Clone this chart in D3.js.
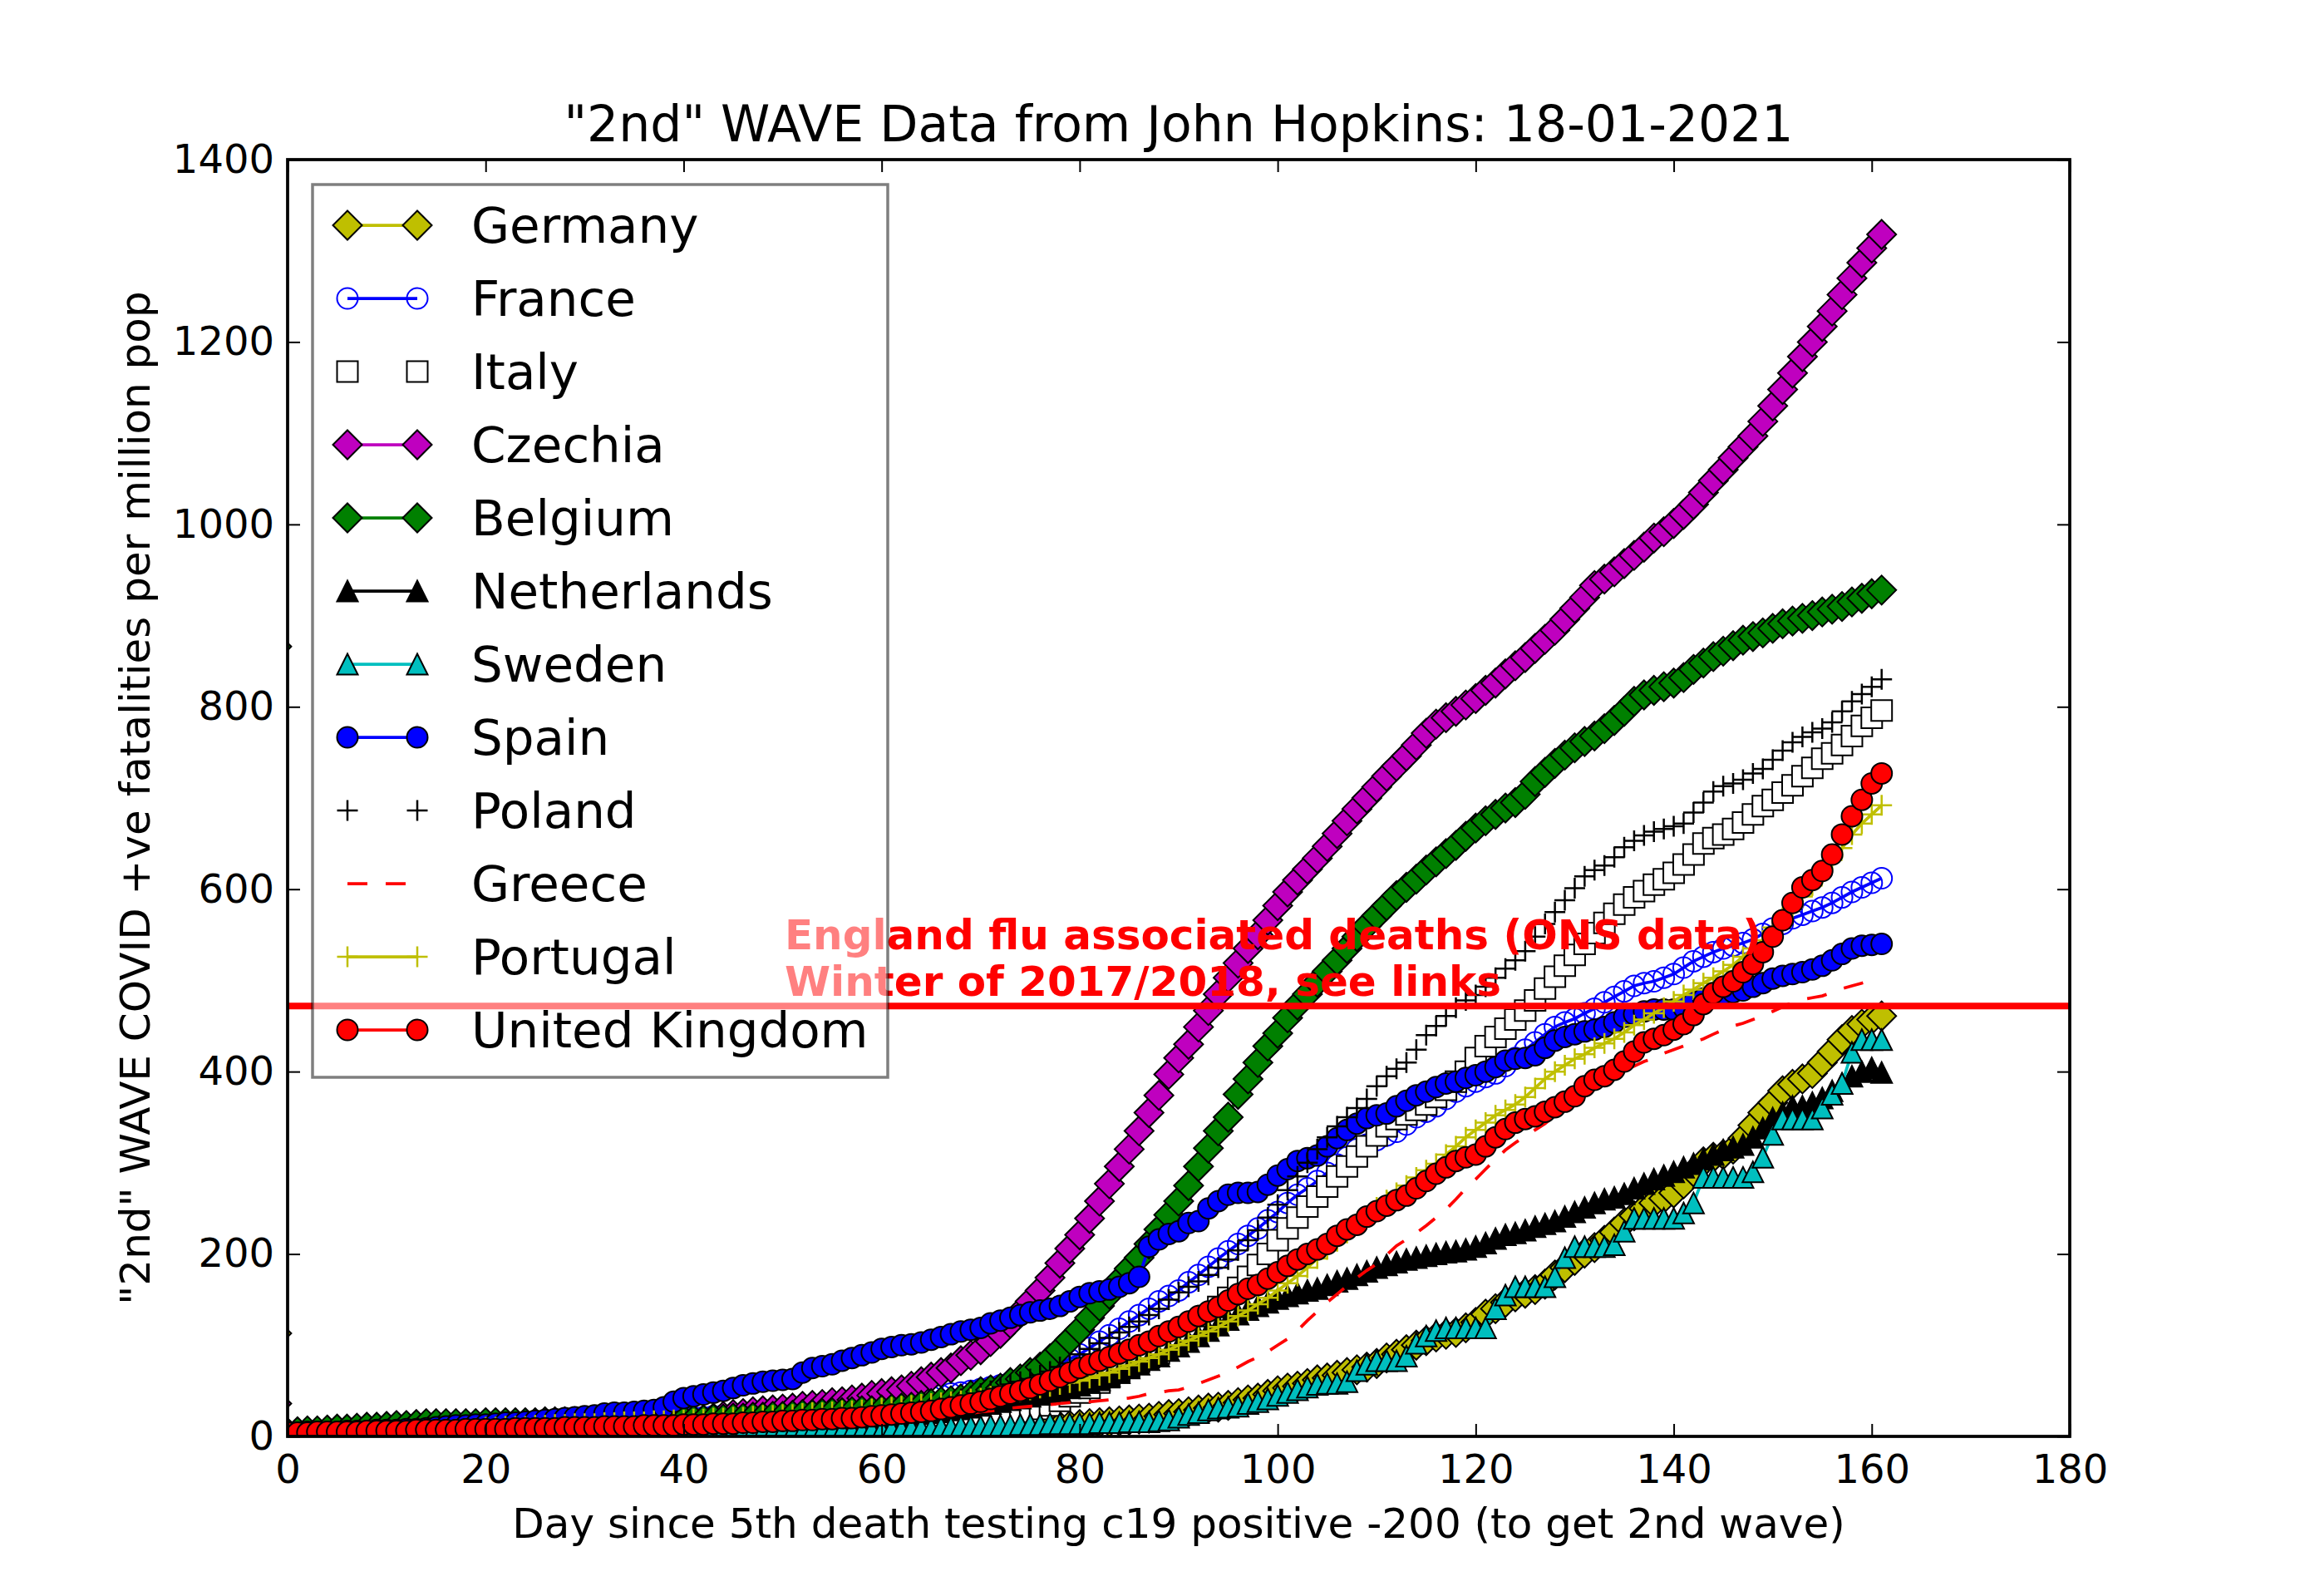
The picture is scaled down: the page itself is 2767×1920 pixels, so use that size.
<!DOCTYPE html>
<html>
<head>
<meta charset="utf-8">
<script src="https://cdn.jsdelivr.net/npm/d3@7"></script>
<style>
  body { margin: 0; background: #fff; }
  svg { display: block; }
  text { font-family: "DejaVu Sans", sans-serif; }
</style>
</head>
<body>
<div id="chart"></div>
<script>
// values, one per day (day 0 .. 161)
const germany = [
  1,1,1,1,1,1,1,2,2,2, 2,2,2,2,2,2,2,2,2,2, 2,2,2,2,2,2,3,3,3,3, 3,3,3,3,3,3,3,3,3,3,
  3,3,3,3,3,4,4,4,4,4, 4,4,4,4,4,4,5,5,5,5, 5,5,5,5,6,6,6,6,7,7, 7,8,8,9,9,10,10,11,11,12,
  13,14,15,16,17,18,19,20,22,24, 25,27,29,31,32,34,37,40,42,46, 50,53,55,58,62,64,67,70,73,76,
  80,86,90,95,100,105,109,112,114,119, 125,134,140,147,153,157,161,167,177,185,
  193,201,207,215,224,234,242,250,256,261, 267,277,290,301,306,309,315,327,341,355,
  366,379,386,392,398,410,422,435,445,452, 457,461]
const france = [
  3,3,3,3,4,4,4,4,5,5, 5,5,6,6,6,7,7,7,8,8, 9,9,10,10,11,11,12,12,13,13, 14,14,15,15,16,16,17,17,18,19,
  20,21,21,22,23,23,24,25,26,27, 28,29,30,31,32,33,34,35,36,37, 38,39,40,41,42,44,45,47,48,50,
  52,54,56,59,62,66,70,75,80,85, 90,97,104,111,118,126,133,140,148,154, 160,169,177,186,195,203,211,220,228,237,
  246,256,265,272,280,289,298,306,315,320, 325,330,334,342,350,356,362,370,378,384,
  389,394,398,406,415,424,432,441,449,454, 458,464,469,476,482,488,494,497,499,503,
  507,514,521,526,531,535,538,541,545,551, 557,562,568,572,576,580,585,591,597,602, 607,612]
const italy = [
  2,2,2,2,2,3,3,3,3,3, 3,3,4,4,4,4,4,5,5,5, 5,5,5,6,6,6,6,6,7,7, 7,7,7,8,8,8,8,8,9,9,
  9,9,10,10,10,10,11,11,11,12, 12,12,13,13,13,14,14,14,15,15, 15,16,16,17,17,18,18,19,19,20,
  20,21,22,23,25,27,30,34,39,44, 48,53,59,65,70,76,82,87,91,99, 107,114,122,132,142,152,163,175,188,200,
  215,228,240,252,263,274,285,296,307,318, 330,340,348,353,358,364,372,380,389,400,
  415,428,438,447,457,467,478,491,504,516, 528,540,552,563,573,583,591,598,605,611,
  618,627,638,650,656,660,666,673,682,691, 698,706,714,724,733,743,749,758,768,779, 788,796]
const czechia = [
  3,3,3,4,4,4,4,5,5,5, 5,5,6,6,6,6,7,7,7,8, 8,8,8,9,9,9,10,10,10,11, 11,11,12,12,12,13,13,13,14,14,
  15,17,18,20,22,24,25,27,28,29, 30,31,33,34,35,37,38,40,42,45, 47,49,51,55,60,65,70,75,83,89,
  95,104,113,124,136,148,160,174,190,206, 221,239,258,277,296,315,335,355,374,397,
  415,430,449,467,485,503,519,535,550,566, 582,597,610,622,634,647,661,675,688,700,
  712,724,735,746,758,771,781,788,795,802, 809,818,826,836,845,854,864,874,884,896,
  908,920,933,940,948,957,966,975,985,992, 1001,1011,1022,1035,1048,1060,1073,1085,1097,1113,
  1130,1148,1166,1184,1200,1217,1234,1252,1270,1287, 1303,1318]
const belgium = [
  4,5,6,6,7,8,8,9,10,10, 11,12,12,13,14,14,14,14,14,14, 15,15,15,15,15,15,16,16,16,16, 16,16,16,17,17,17,17,17,17,17,
  18,18,18,19,19,20,20,21,21,22, 22,23,24,24,25,26,26,27,28,28, 29,30,31,32,34,36,38,39,41,45,
  49,51,53,59,63,70,76,85,95,106, 117,130,143,156,171,184,196,211,227,243, 258,275,296,316,335,350,375,392,410,428,
  442,459,473,485,498,510,522,535,548,560, 571,582,593,602,611,621,630,639,648,658,
  667,675,682,689,695,704,718,728,738,747, 755,762,768,776,785,795,806,813,818,822,
  826,832,841,848,855,861,867,873,877,881, 886,891,894,897,900,904,907,910,915,919, 924,928]
const netherlands = [
  3,3,3,3,3,4,4,4,4,4, 4,5,5,5,5,5,5,6,6,6, 6,6,6,7,7,7,7,7,8,8, 8,8,8,9,9,9,9,10,10,10,
  10,11,11,11,12,12,12,13,13,14, 14,15,15,16,16,17,18,18,19,20, 21,22,23,24,25,26,27,29,30,32,
  34,36,38,40,42,44,46,48,50,53, 56,59,62,66,70,75,79,84,88,94, 99,104,110,116,122,128,134,139,143,147,
  151,154,157,160,162,166,170,173,177,181, 185,188,191,194,196,198,200,202,203,205,
  208,212,217,221,223,226,230,233,236,241, 246,251,256,260,262,266,272,277,282,286,
  290,295,299,304,309,314,317,320,328,338, 349,355,362,362,366,371,379,387,395,400, 404,399]
const sweden = [
  2,2,2,2,2,2,2,2,2,2, 3,3,3,3,3,3,3,3,3,3, 3,3,3,3,3,3,4,4,4,4, 4,4,4,4,4,4,4,4,4,5,
  5,5,5,5,5,5,5,5,5,5, 5,5,5,6,6,6,6,6,6,7, 7,8,8,9,9,9,10,10,11,11, 11,12,12,12,13,13,13,14,14,14,
  14,14,15,15,15,16,16,16,17,18, 21,24,26,29,31,32,33,36,38,41, 45,48,51,54,57,58,58,60,72,79,
  83,83,83,88,102,110,116,119,119,119, 119,119,140,155,164,164,164,164,175,196,
  208,208,208,208,210,225,239,239,239,239, 239,245,256,284,284,284,284,284,290,306,
  331,348,348,348,348,360,375,387,421,435, 435,435]
const spain = [
  4,4,5,5,5,5,6,6,6,7, 7,7,8,8,9,10,11,12,12,13, 13,14,15,15,16,17,18,19,20,21, 22,23,25,26,26,27,28,29,32,38,
  42,44,46,48,50,53,56,58,60,61, 62,63,70,75,77,79,83,86,89,92, 96,98,100,101,103,106,109,112,115,117,
  119,124,127,130,133,136,138,140,143,148, 153,157,159,161,164,168,175,208,216,222, 225,234,236,250,258,265,267,267,268,276,
  286,293,302,305,308,318,327,336,343,349, 352,354,362,368,374,378,383,387,389,393,
  396,400,405,412,414,415,418,426,434,438, 441,444,446,449,454,460,463,466,468,468,
  468,470,476,480,483,485,487,489,493,497, 502,505,507,509,512,516,522,529,535,538, 539,540]
const poland = [
  1,1,1,2,2,2,2,2,2,2, 3,3,3,3,3,3,4,4,4,4, 4,5,5,5,5,6,6,6,6,7, 7,7,8,8,8,9,9,9,10,10,
  11,11,12,12,13,13,14,14,15,16, 16,17,18,19,20,21,22,23,24,25, 26,27,28,30,31,32,35,38,41,44,
  47,50,54,57,60,63,67,71,76,80, 90,96,102,108,114,120,126,133,140,150, 158,164,170,177,185,194,204,215,226,240,
  254,270,285,300,315,328,340,350,360,370, 384,395,403,410,424,440,450,461,470,478,
  484,493,503,513,522,532,548,562,575,588, 601,614,621,626,635,646,653,659,663,666,
  669,672,684,695,707,713,716,720,727,732, 742,752,761,767,772,776,783,795,806,814, 822,830]
const greece = [
  1,1,1,1,1,1,1,1,1,1, 1,1,1,1,1,2,2,2,2,2, 2,2,2,2,2,2,2,3,3,3, 3,3,3,3,3,4,4,4,4,4,
  5,5,5,5,6,6,6,7,7,7, 8,8,9,9,10,10,11,11,12,13, 14,15,16,17,18,19,21,22,24,25,
  27,28,29,31,32,33,34,35,36,37, 38,38,39,40,41,42,44,47,48,50, 51,54,58,62,66,70,76,82,87,93,
  100,107,116,127,137,147,156,165,174,182, 189,199,209,216,223,231,240,249,260,272,
  282,293,304,314,322,329,336,343,352,361, 370,378,384,390,396,401,406,411,415,420,
  424,428,432,436,441,446,450,453,457,461, 466,471,476,479,481,483,487,491,494,497, 500]
const portugal = [
  2,2,3,3,3,4,4,4,5,5, 5,6,6,6,7,7,8,8,9,9, 10,10,11,11,11,12,12,13,13,14, 14,14,15,15,16,16,16,17,17,18,
  18,19,19,20,20,21,21,22,23,23, 24,24,25,26,26,27,28,28,29,30, 31,32,33,34,35,36,37,38,39,41,
  42,44,45,47,49,51,53,55,57,59, 61,64,67,70,74,78,82,86,90,95, 100,105,110,115,120,126,132,138,145,152,
  160,168,176,185,195,205,214,223,233,242, 251,259,267,275,284,292,299,309,318,328,
  336,344,352,358,364,372,382,392,400,407, 414,419,426,431,436,443,451,457,464,470,
  477,484,490,497,503,510,517,526,535,544, 558,569,580,592,604,617,632,645,660,672, 682,692]
const unitedKingdom = [
  4,4,4,5,5,5,5,5,6,6, 6,6,6,7,7,7,7,7,8,8, 8,8,8,9,9,9,9,9,10,10, 10,10,11,11,11,11,12,12,12,12,
  13,13,13,14,14,14,15,15,16,16, 17,17,18,18,19,19,20,20,21,22, 23,24,25,26,27,28,30,32,34,36,
  38,41,44,47,50,53,57,61,65,70, 75,79,83,87,91,95,100,104,110,115, 120,126,132,137,142,149,156,162,166,173,
  180,187,194,200,205,211,220,227,232,241, 247,253,259,264,272,280,288,295,302,306,
  309,318,328,337,344,348,351,356,361,367, 373,384,391,395,402,411,422,432,436,440,
  446,452,462,474,486,493,499,509,518,531, 548,566,585,602,610,620,638,660,680,698, 716,727]

// stray first points drawn at the left edge
const strayNames = ["Belgium", "Germany", "Czechia"]
const strayValues = [866, 113, 36]
const strayDay = -1.1

const fluLevel = 472
const fluText = ["England flu associated deaths (ONS data)", "Winter of 2017/2018, see links"]
const xTicks = [0, 20, 40, 60, 80, 100, 120, 140, 160, 180]
const yTicks = [0, 200, 400, 600, 800, 1000, 1200, 1400]

const names = ["Germany", "France", "Italy", "Czechia", "Belgium", "Netherlands",
  "Sweden", "Spain", "Poland", "Greece", "Portugal", "United Kingdom"]
const valuesByName = {
  "Germany": germany, "France": france, "Italy": italy, "Czechia": czechia,
  "Belgium": belgium, "Netherlands": netherlands, "Sweden": sweden, "Spain": spain,
  "Poland": poland, "Greece": greece, "Portugal": portugal, "United Kingdom": unitedKingdom
}

// styles, matplotlib classic colours
const styles = {
  "Germany":        {line: "#bfbf00", marker: "diamond", fill: "#bfbf00", edge: "#000"},
  "France":         {line: "#0000ff", marker: "circle", fill: "none", edge: "#0000ff"},
  "Italy":          {line: null, marker: "square", fill: "#fff", edge: "#000"},
  "Czechia":        {line: "#bf00bf", marker: "diamond", fill: "#bf00bf", edge: "#000"},
  "Belgium":        {line: "#008000", marker: "diamond", fill: "#008000", edge: "#000"},
  "Netherlands":    {line: "#000", marker: "triangle", fill: "#000", edge: "#000"},
  "Sweden":         {line: "#00bfbf", marker: "triangle", fill: "#00bfbf", edge: "#000"},
  "Spain":          {line: "#0000ff", marker: "circle", fill: "#0000ff", edge: "#000"},
  "Poland":         {line: null, marker: "plus", fill: "none", edge: "#000"},
  "Greece":         {line: "#ff0000", dash: "24,22", marker: null},
  "Portugal":       {line: "#bfbf00", marker: "plus", fill: "none", edge: "#bfbf00"},
  "United Kingdom": {line: "#ff0000", marker: "circle", fill: "#ff0000", edge: "#000"}
}

const markerPath = {
  circle: "M12.5,0A12.5,12.5 0 1,1 -12.5,0A12.5,12.5 0 1,1 12.5,0Z",
  diamond: "M0,-17.5L17.5,0L0,17.5L-17.5,0Z",
  triangle: "M0,-12.5L12.5,12.5L-12.5,12.5Z",
  square: "M-12.5,-12.5h25v25h-25Z",
  plus: "M-12.5,0h25M0,-12.5v25"
}

const width = 2767
const height = 1920
const plotLeft = 346, plotRight = 2490, plotTop = 192, plotBottom = 1728

const x = d3.scaleLinear().domain([0, 180]).range([plotLeft, plotRight])
const y = d3.scaleLinear().domain([0, 1400]).range([plotBottom, plotTop])

const svg = d3.select("#chart").append("svg")
  .attr("width", width)
  .attr("height", height)

svg.append("rect").attr("width", width).attr("height", height).attr("fill", "#fff")

svg.append("clipPath").attr("id", "plotclip")
  .append("rect")
  .attr("x", plotLeft).attr("y", plotTop)
  .attr("width", plotRight - plotLeft).attr("height", plotBottom - plotTop)

const plot = svg.append("g").attr("clip-path", "url(#plotclip)")

function drawMarkers(g, pts, st) {
  g.selectAll(null).data(pts).enter().append("path")
    .attr("d", markerPath[st.marker])
    .attr("transform", d => `translate(${d[0]},${d[1]})`)
    .attr("fill", st.fill)
    .attr("stroke", st.edge)
    .attr("stroke-width", st.marker === "plus" ? 2.5 : 2)
}

names.forEach(name => {
  const st = styles[name]
  const vals = valuesByName[name]
  const pts = vals.map((v, i) => [x(i), y(v)])
  const g = plot.append("g")
  if (st.line) {
    g.append("path")
      .attr("d", d3.line()(pts))
      .attr("fill", "none")
      .attr("stroke", st.line)
      .attr("stroke-width", 3.75)
      .attr("stroke-dasharray", st.dash || null)
  }
  if (st.marker) drawMarkers(g, pts, st)
})

strayNames.forEach((name, i) => {
  drawMarkers(plot.append("g"), [[x(strayDay), y(strayValues[i])]], styles[name])
})

// flu reference line and its label
plot.append("line")
  .attr("x1", plotLeft).attr("x2", plotRight)
  .attr("y1", y(fluLevel)).attr("y2", y(fluLevel))
  .attr("stroke", "#ff0000")
  .attr("stroke-width", 8)

svg.append("g").selectAll("text").data(fluText).enter().append("text")
  .attr("x", x(50.2))
  .attr("y", (d, i) => y(fluLevel) - 68 + i * 56)
  .attr("fill", "#ff0000")
  .attr("font-weight", "bold")
  .attr("font-size", 50)
  .text(d => d)

// axes: ticks inside on all four sides
const tickLen = 15
function styleAxis(g) {
  g.select(".domain").remove()
  g.selectAll(".tick line").attr("stroke", "#000").attr("stroke-width", 2)
  g.selectAll(".tick text").attr("font-size", 48).attr("fill", "#000")
    .attr("font-family", "DejaVu Sans")
}

svg.append("g")
  .attr("transform", `translate(0,${plotBottom})`)
  .call(d3.axisBottom(x).tickValues(xTicks).tickSizeInner(-tickLen).tickSizeOuter(0)
    .tickPadding(22).tickFormat(d3.format("d")))
  .call(styleAxis)

svg.append("g")
  .attr("transform", `translate(0,${plotTop})`)
  .call(d3.axisTop(x).tickValues(xTicks).tickSizeInner(-tickLen).tickSizeOuter(0).tickFormat(""))
  .call(styleAxis)

svg.append("g")
  .attr("transform", `translate(${plotLeft},0)`)
  .call(d3.axisLeft(y).tickValues(yTicks).tickSizeInner(-tickLen).tickSizeOuter(0)
    .tickPadding(16).tickFormat(d3.format("d")))
  .call(styleAxis)

svg.append("g")
  .attr("transform", `translate(${plotRight},0)`)
  .call(d3.axisRight(y).tickValues(yTicks).tickSizeInner(-tickLen).tickSizeOuter(0).tickFormat(""))
  .call(styleAxis)

svg.append("rect")
  .attr("x", plotLeft).attr("y", plotTop)
  .attr("width", plotRight - plotLeft).attr("height", plotBottom - plotTop)
  .attr("fill", "none")
  .attr("stroke", "#000")
  .attr("stroke-width", 3.75)

// titles
svg.append("text")
  .attr("x", (plotLeft + plotRight) / 2).attr("y", 170)
  .attr("text-anchor", "middle")
  .attr("font-size", 60)
  .text('"2nd" WAVE Data from John Hopkins: 18-01-2021')

svg.append("text")
  .attr("x", (plotLeft + plotRight) / 2).attr("y", 1850)
  .attr("text-anchor", "middle")
  .attr("font-size", 50)
  .text("Day since 5th death testing c19 positive -200 (to get 2nd wave)")

svg.append("text")
  .attr("transform", `translate(180,${(plotTop + plotBottom) / 2}) rotate(-90)`)
  .attr("text-anchor", "middle")
  .attr("font-size", 50)
  .text('"2nd" WAVE COVID +ve fatalities per million pop')

// legend
const legend = svg.append("g")
legend.append("rect")
  .attr("x", 376).attr("y", 222)
  .attr("width", 692).attr("height", 1074)
  .attr("fill", "#fff").attr("fill-opacity", 0.5)
  .attr("stroke", "#000").attr("stroke-opacity", 0.5)
  .attr("stroke-width", 3.5)

names.forEach((name, i) => {
  const st = styles[name]
  const cy = 271 + i * 88
  const g = legend.append("g")
  if (st.line) {
    g.append("line")
      .attr("x1", 418).attr("x2", 502)
      .attr("y1", cy).attr("y2", cy)
      .attr("stroke", st.line)
      .attr("stroke-width", 3.75)
      .attr("stroke-dasharray", st.dash || null)
  }
  if (st.marker) drawMarkers(g, [[418, cy], [502, cy]], st)
  g.append("text")
    .attr("x", 567).attr("y", cy)
    .attr("dy", "0.36em")
    .attr("font-size", 59.5)
    .text(name)
})
</script>
</body>
</html>
